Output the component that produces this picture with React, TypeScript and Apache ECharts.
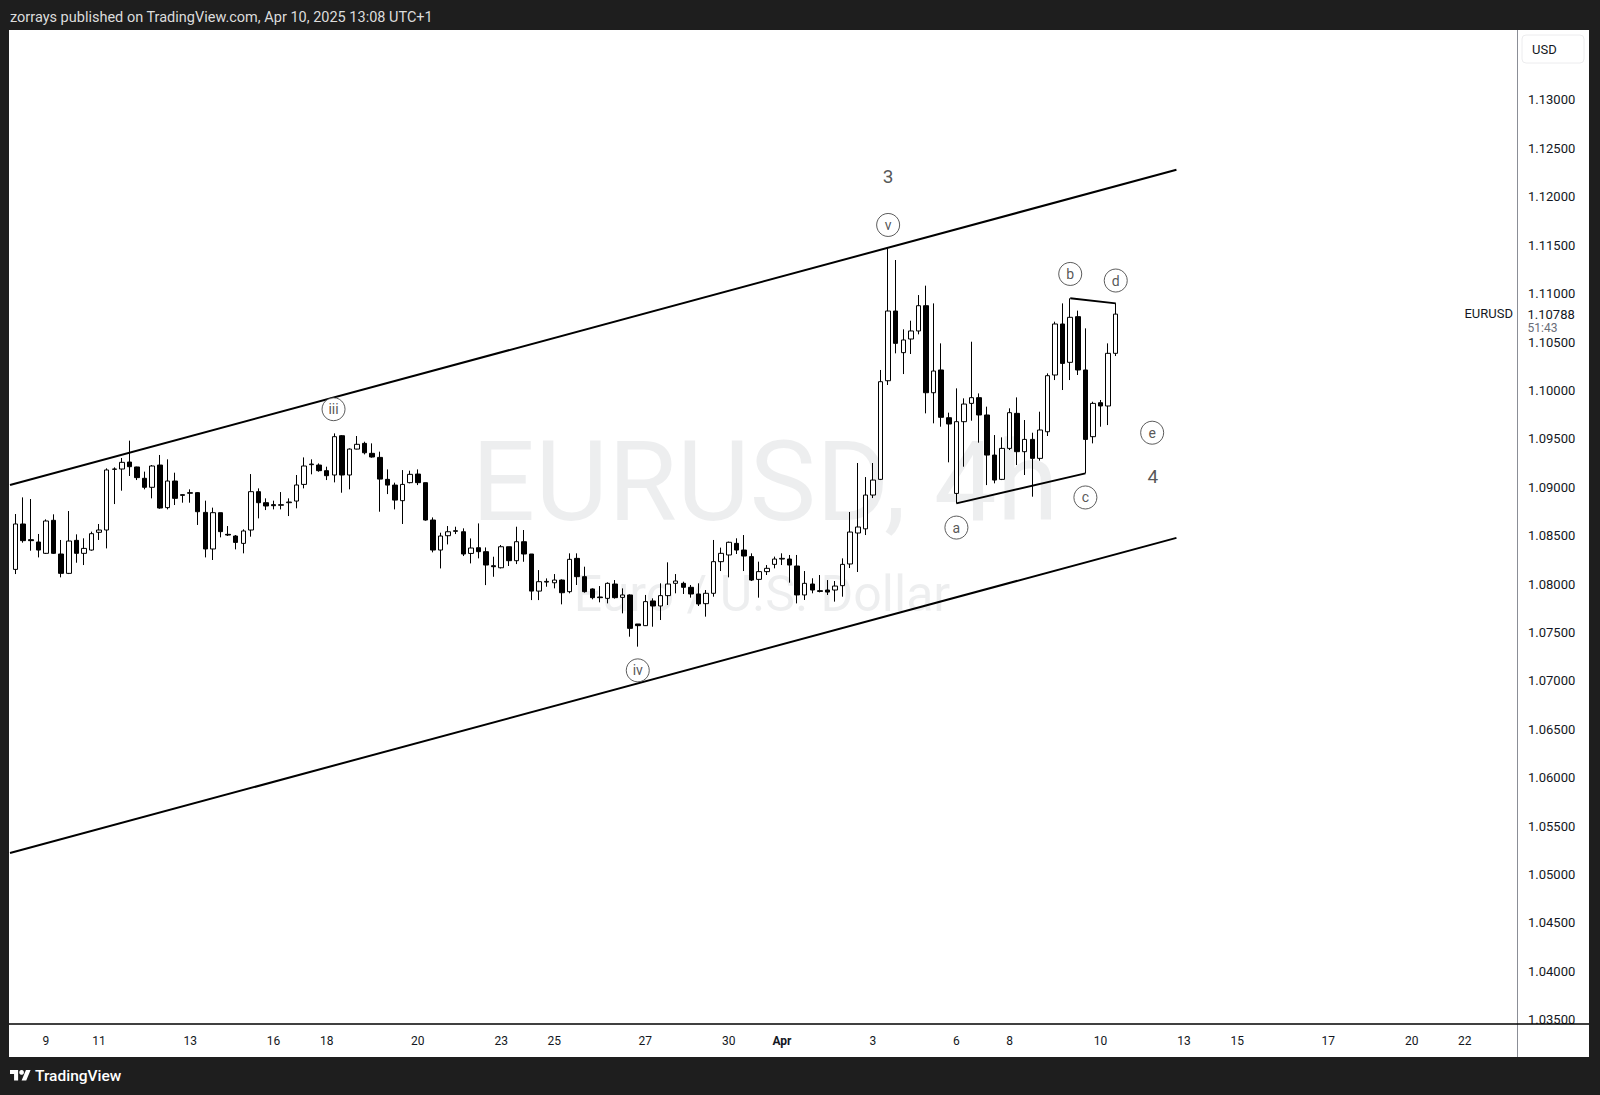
import React, { useEffect, useRef } from "react";
import * as echarts from "echarts";

const FONT = 'Roboto, "Noto Sans", "DejaVu Sans", sans-serif';

// EURUSD 4h candles, Mar 7 -> Apr 10 2025
const opens = [
  1.08151, 1.0862, 1.08458, 1.08434, 1.08317, 1.08658, 1.0831, 1.0811, 1.08451, 1.08317,
  1.08351, 1.08534, 1.08558, 1.09185, 1.09188, 1.0926, 1.09209, 1.09092, 1.08999, 1.09229,
  1.08789, 1.09064, 1.08923, 1.08937, 1.08944, 1.0874, 1.08362, 1.08737, 1.08513, 1.08496,
  1.0842, 1.08558, 1.08954, 1.0884, 1.0882, 1.08813, 1.0884, 1.08857, 1.09029, 1.09233,
  1.09229, 1.09171, 1.09126, 1.09532, 1.09126, 1.09394, 1.09453, 1.0935, 1.09308, 1.09081,
  1.09022, 1.08861, 1.09047, 1.09136, 1.09047, 1.08661, 1.08351, 1.08499, 1.08544, 1.0854,
  1.08316, 1.08375, 1.08334, 1.08189, 1.08168, 1.08385, 1.08241, 1.08437, 1.0831, 1.07927,
  1.0802, 1.08013, 1.08041, 1.07921, 1.08265, 1.08076, 1.07949, 1.07866, 1.07852, 1.08,
  1.07862, 1.07887, 1.07587, 1.0757, 1.07825, 1.07773, 1.0788, 1.08007, 1.08007, 1.07966,
  1.07897, 1.07797, 1.07904, 1.08231, 1.083, 1.0842, 1.08351, 1.08283, 1.08048, 1.08128,
  1.08203, 1.08258, 1.08258, 1.08186, 1.07887, 1.08, 1.07931, 1.07938, 1.07938, 1.07983,
  1.08207, 1.08527, 1.0857, 1.08919, 1.09081, 1.101, 1.1082, 1.1039, 1.10531, 1.10614,
  1.10875, 1.09976, 1.10211, 1.09718, 1.08936, 1.09677, 1.09866, 1.09925, 1.09746, 1.09332,
  1.09081, 1.09401, 1.09763, 1.09367, 1.09494, 1.09298, 1.09573, 1.10159, 1.10686, 1.1029,
  1.10762, 1.10211, 1.09522, 1.09873, 1.09839, 1.10383,
];
const highs = [
  1.08723, 1.08895, 1.08878, 1.08517, 1.08668, 1.0872, 1.08455, 1.08754, 1.08513, 1.08472,
  1.08541, 1.0862, 1.09195, 1.09205, 1.09302, 1.09481, 1.09212, 1.09161, 1.09229, 1.09333,
  1.09288, 1.0915, 1.08926, 1.08978, 1.0895, 1.08861, 1.08789, 1.08737, 1.08599, 1.08506,
  1.08565, 1.09136, 1.08988, 1.08885, 1.08861, 1.0895, 1.08885, 1.09126, 1.09308, 1.09288,
  1.09246, 1.09212, 1.09556, 1.09539, 1.09401, 1.09529, 1.0947, 1.09453, 1.09367, 1.09184,
  1.09047, 1.09177, 1.09171, 1.09184, 1.09047, 1.08688, 1.0853, 1.08599, 1.08592, 1.08575,
  1.08471, 1.08626, 1.08378, 1.08282, 1.08403, 1.08385, 1.08592, 1.08558, 1.0831, 1.08144,
  1.08058, 1.08103, 1.08048, 1.08317, 1.08317, 1.08179, 1.07955, 1.07979, 1.08017, 1.08041,
  1.07955, 1.07893, 1.07587, 1.07887, 1.07852, 1.08007, 1.08224, 1.08103, 1.08024, 1.0799,
  1.08007, 1.07938, 1.08455, 1.08376, 1.08438, 1.08472, 1.08506, 1.08317, 1.08231, 1.08196,
  1.08283, 1.08317, 1.083, 1.083, 1.08134, 1.08059, 1.08093, 1.08041, 1.08031, 1.08265,
  1.08744, 1.0925, 1.09105, 1.0925, 1.10211, 1.11468, 1.11347, 1.10631, 1.1072, 1.10985,
  1.11082, 1.10899, 1.10486, 1.0977, 1.10021, 1.09918, 1.10503, 1.09969, 1.09832, 1.09539,
  1.09515, 1.09815, 1.09928, 1.09694, 1.09563, 1.0978, 1.10176, 1.1071, 1.10899, 1.10951,
  1.10824, 1.10641, 1.09883, 1.09901, 1.10486, 1.10899,
];
const lows = [
  1.08103, 1.08427, 1.08344, 1.08275, 1.0831, 1.0831, 1.08069, 1.08103, 1.0822, 1.08196,
  1.08344, 1.08455, 1.08368, 1.08826, 1.08964, 1.09116, 1.09074, 1.08978, 1.08885, 1.08778,
  1.08771, 1.08816, 1.0884, 1.0884, 1.0861, 1.08275, 1.08248, 1.08482, 1.08496, 1.08358,
  1.08317, 1.08489, 1.08678, 1.08764, 1.08771, 1.08771, 1.08702, 1.08782, 1.08988, 1.09133,
  1.0916, 1.09074, 1.0905, 1.08943, 1.08978, 1.09391, 1.09339, 1.09305, 1.08747, 1.08929,
  1.08771, 1.0862, 1.0904, 1.09022, 1.08654, 1.08327, 1.08161, 1.08409, 1.08516, 1.08289,
  1.08213, 1.08265, 1.07989, 1.08075, 1.08161, 1.08186, 1.08206, 1.0823, 1.07834, 1.07834,
  1.07972, 1.07955, 1.0779, 1.07904, 1.0799, 1.07911, 1.07842, 1.07811, 1.078, 1.07849,
  1.07697, 1.07456, 1.07353, 1.07566, 1.07559, 1.07628, 1.07783, 1.07904, 1.07897, 1.07859,
  1.07773, 1.07663, 1.07869, 1.08134, 1.08069, 1.0831, 1.08134, 1.08031, 1.07859, 1.08093,
  1.08162, 1.08196, 1.08014, 1.078, 1.07835, 1.07904, 1.07914, 1.07887, 1.07818, 1.07869,
  1.08165, 1.08124, 1.08506, 1.08888, 1.09074, 1.10056, 1.10383, 1.10169, 1.10376, 1.10579,
  1.09763, 1.0966, 1.09625, 1.09257, 1.08833, 1.09212, 1.09687, 1.0946, 1.09022, 1.0904,
  1.09074, 1.09384, 1.09229, 1.09126, 1.08902, 1.09274, 1.09529, 1.10107, 1.10004, 1.10107,
  1.10159, 1.09143, 1.09453, 1.09625, 1.09642, 1.10355,
];
const closes = [
  1.0862, 1.08448, 1.08448, 1.08351, 1.08651, 1.08317, 1.0811, 1.08444, 1.08317, 1.08368,
  1.0852, 1.08558, 1.09178, 1.09188, 1.09257, 1.09212, 1.09099, 1.08999, 1.09219, 1.08785,
  1.09064, 1.08885, 1.08916, 1.08944, 1.08747, 1.08362, 1.08737, 1.08541, 1.08506, 1.0843,
  1.08548, 1.08954, 1.0884, 1.08806, 1.08809, 1.0882, 1.08847, 1.09023, 1.09219, 1.09239,
  1.09171, 1.09119, 1.09522, 1.09126, 1.09394, 1.09443, 1.09356, 1.09312, 1.09084, 1.09022,
  1.08867, 1.09029, 1.09133, 1.09047, 1.08661, 1.08351, 1.08496, 1.0854, 1.08551, 1.0831,
  1.08372, 1.08334, 1.08196, 1.08179, 1.08385, 1.08241, 1.08437, 1.0831, 1.07927, 1.08024,
  1.08027, 1.08041, 1.0791, 1.08255, 1.08076, 1.07921, 1.07859, 1.07859, 1.08007, 1.07859,
  1.07887, 1.07542, 1.0757, 1.07818, 1.07773, 1.0788, 1.08, 1.08031, 1.07966, 1.07897,
  1.07794, 1.07904, 1.08231, 1.08317, 1.08431, 1.08351, 1.08289, 1.08041, 1.08128, 1.08162,
  1.08258, 1.08265, 1.08196, 1.07887, 1.08007, 1.07938, 1.07924, 1.07917, 1.07979, 1.08203,
  1.08537, 1.08589, 1.08919, 1.09074, 1.1009, 1.1082, 1.10486, 1.10521, 1.10614, 1.10875,
  1.09976, 1.102, 1.09722, 1.09653, 1.09677, 1.09859, 1.09925, 1.09746, 1.09332, 1.09074,
  1.09401, 1.0977, 1.09367, 1.09494, 1.09298, 1.09591, 1.10152, 1.10686, 1.10279, 1.10755,
  1.10211, 1.09494, 1.09866, 1.09839, 1.10383, 1.10788,
];

// time axis: candle index of each day label
const dayTickIndex = [4, 11, 23, 34, 41, 53, 64, 71, 83, 94, 101, 113, 124, 131, 143, 154, 161, 173, 184, 191];
const dayTickLabel = ["9", "11", "13", "16", "18", "20", "23", "25", "27", "30", "Apr", "3", "6", "8", "10", "13", "15", "17", "20", "22"];

// price axis labels
const priceTicks = [
  1.035, 1.04, 1.045, 1.05, 1.055, 1.06, 1.065, 1.07, 1.075, 1.08,
  1.085, 1.09, 1.095, 1.1, 1.105, 1.11, 1.115, 1.12, 1.125, 1.13,
];

// Elliott wave labels (circled), anchored at candle index / price
const waveLabels = ["iii", "iv", "v", "a", "b", "c", "d", "e"];
const waveX = [41.9, 82, 115, 124, 139, 141, 145, 149.8];
const waveY = [1.09806, 1.07108, 1.11709, 1.08583, 1.11203, 1.08894, 1.11135, 1.09563];
const degreeLabels = ["3", "4"];
const degreeX = [115, 149.9];
const degreeY = [1.1221, 1.09111];

// drawn trend lines
const channelUpperX = [-0.745, 153.0];
const channelUpperY = [1.09023, 1.12279];
const channelLowerX = [-0.745, 153.0];
const channelLowerY = [1.05221, 1.08477];
const triangleLowX = [124, 141];
const triangleLowY = [1.08833, 1.09143];
const triangleHighX = [139, 145];
const triangleHighY = [1.10951, 1.10899];

const countdown = "51:43";
const symbolName = "EURUSD";
const headerText = "zorrays published on TradingView.com, Apr 10, 2025 13:08 UTC+1";

try {
  echarts.graphic.registerShape(
    "tvlogo",
    echarts.graphic.extendPath("M14 25H7V14H0V7h14v18zM28 25h-8l7.5-18h8L28 25z", {})
  );
} catch (e) {
  /* ignore */
}

const toPairs = (xs: number[], ys: number[]) => xs.map((x, i) => [x, ys[i]]);

function lineSeries(xs: number[], ys: number[]) {
  return {
    type: "line",
    data: toPairs(xs, ys),
    symbol: "none",
    silent: true,
    z: 4,
    lineStyle: { color: "#000000", width: 2 },
  };
}

export default function App() {
  const ref = useRef<HTMLDivElement>(null);
  useEffect(() => {
    const el = ref.current;
    if (!el) return;
    const chart = echarts.init(el, null, { renderer: "svg" });
    const option: any = {
      animation: false,
      backgroundColor: "#1e1e1e",
      grid: { left: 10, top: 30, width: 1508, height: 994 },
      xAxis: {
        type: "value",
        min: -0.745,
        max: 198.02,
        axisLine: { show: false },
        axisTick: { show: false },
        splitLine: { show: false },
        axisLabel: {
          customValues: dayTickIndex,
          margin: 11,
          color: "#131722",
          fontSize: 12,
          fontFamily: FONT,
          formatter: (v: number) => {
            const k = dayTickIndex.indexOf(Math.round(v));
            if (k < 0) return "";
            const t = dayTickLabel[k];
            return t === "Apr" ? "{b|Apr}" : t;
          },
          rich: { b: { fontWeight: "bold", fontSize: 12, fontFamily: FONT, color: "#131722" } },
        },
      },
      yAxis: {
        type: "value",
        position: "right",
        min: 1.03455,
        max: 1.13723,
        axisLine: { show: false },
        axisTick: { show: false },
        splitLine: { show: false },
        axisLabel: {
          customValues: priceTicks,
          margin: 10,
          color: "#131722",
          fontSize: 13,
          fontFamily: FONT,
          formatter: (v: number) => v.toFixed(5),
        },
      },
      series: [
        {
          type: "candlestick",
          data: opens.map((o, i) => [i, o, closes[i], lows[i], highs[i]]),
          barWidth: 5,
          z: 3,
          itemStyle: {
            color: "#ffffff",
            color0: "#000000",
            borderColor: "#000000",
            borderColor0: "#000000",
            borderWidth: 1,
          },
        },
        lineSeries(channelUpperX, channelUpperY),
        lineSeries(channelLowerX, channelLowerY),
        lineSeries(triangleLowX, triangleLowY),
        lineSeries(triangleHighX, triangleHighY),
        {
          type: "scatter",
          z: 5,
          silent: true,
          data: waveX.map((x, i) => [x, waveY[i], waveLabels[i]]),
          symbol: "circle",
          symbolSize: 23,
          itemStyle: { color: "#ffffff", borderColor: "#333333", borderWidth: 1 },
          label: {
            show: true,
            position: "inside",
            formatter: (p: any) => p.value[2],
            color: "#2b2b2b",
            fontSize: 14,
            fontFamily: FONT,
          },
        },
        {
          type: "scatter",
          z: 5,
          silent: true,
          data: degreeX.map((x, i) => [x, degreeY[i], degreeLabels[i]]),
          symbol: "circle",
          symbolSize: 2,
          itemStyle: { color: "rgba(255,255,255,0)" },
          label: {
            show: true,
            position: "inside",
            formatter: (p: any) => p.value[2],
            color: "#2b2b2b",
            fontSize: 19,
            fontFamily: FONT,
          },
        },
      ],
    };
    chart.setOption(option);

    const lastPrice = closes[closes.length - 1];
    const py = chart.convertToPixel({ yAxisIndex: 0 }, lastPrice) as number;

    const txt = (
      text: string,
      x: number,
      y: number,
      size: number,
      fill: string,
      align: string,
      extra: any = {},
      z = 20
    ) => ({
      type: "text",
      z,
      silent: true,
      style: {
        text,
        x,
        y,
        fill,
        fontSize: size,
        fontFamily: FONT,
        align,
        textAlign: align,
        verticalAlign: "middle",
        textVerticalAlign: "middle",
        ...extra,
      },
    });

    chart.setOption({
      graphic: [
        { type: "rect", z: -20, silent: true, shape: { x: 9, y: 30, width: 1580, height: 1027 }, style: { fill: "#ffffff" } },
        txt("EURUSD, 4h", 765, 481, 112, "rgba(19,23,34,0.075)", "center", {}, -10),
        txt("Euro / U.S. Dollar", 762, 594, 50, "rgba(19,23,34,0.075)", "center", {}, -10),
        { type: "line", z: 20, silent: true, shape: { x1: 1517.5, y1: 30, x2: 1517.5, y2: 1057 }, style: { stroke: "#8b8e96", lineWidth: 1 } },
        { type: "line", z: 20, silent: true, shape: { x1: 9, y1: 1024, x2: 1589, y2: 1024 }, style: { stroke: "#000000", lineWidth: 1.6 } },
        { type: "rect", z: 20, silent: true, shape: { x: 1522, y: 35, width: 62, height: 28, r: 4 }, style: { fill: "#ffffff", stroke: "#ececee", lineWidth: 1 } },
        txt("USD", 1532, 49.5, 13, "#131722", "left"),
        txt(lastPrice.toFixed(5), 1527.5, py, 13, "#131722", "left"),
        txt(countdown, 1527.5, py + 14, 12, "#6a6d78", "left"),
        txt(symbolName, 1513, py - 1, 13, "#131722", "right"),
        txt(headerText, 10, 17.5, 14.5, "#dcdcdc", "left"),
        { type: "tvlogo", z: 20, silent: true, x: 10, y: 1066, scaleX: 0.58, scaleY: 0.58, style: { fill: "#ffffff" } },
        { type: "circle", z: 20, silent: true, shape: { cx: 10 + 20 * 0.58, cy: 1066 + 11 * 0.58, r: 4 * 0.58 }, style: { fill: "#ffffff" } },
        txt("TradingView", 35, 1076, 15.5, "#ffffff", "left", { fontWeight: 500 }),
      ],
    });

    return () => chart.dispose();
  }, []);
  return (
    <div
      ref={ref}
      style={{ position: "absolute", left: 0, top: 0, width: 1600, height: 1095 }}
    />
  );
}
